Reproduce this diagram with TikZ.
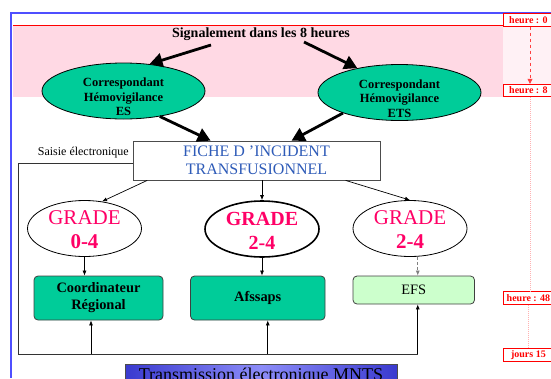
\documentclass[tikz,border=0pt]{standalone}
\usepackage{fontspec}
\setmainfont{Liberation Serif}
\usetikzlibrary{shapes.geometric,arrows.meta,calc}

\definecolor{pinkbg}{HTML}{FFD9E4}
\definecolor{palepink}{HTML}{FFF1F5}
\definecolor{framecol}{HTML}{4F4FFF}
\definecolor{grnfill}{HTML}{00CC99}
\definecolor{ltgreen}{HTML}{CCFFCC}
\definecolor{gradecol}{HTML}{FF0066}
\definecolor{fichecol}{HTML}{2E5BB8}
\definecolor{mntsdark}{HTML}{3A3ACF}
\definecolor{mntslight}{HTML}{8C8CF8}

\begin{document}
\begin{tikzpicture}[x=1pt,y=-1pt,
    corr/.style={ellipse,draw,line width=0.8pt,fill=grnfill,minimum width=163pt,minimum height=56pt,inner sep=0pt},
    corrtxt/.style={font=\fontsize{12.5}{14.5}\selectfont\bfseries,align=center},
    grade/.style={ellipse,draw,line width=0.8pt,fill=white,minimum width=114pt,minimum height=56pt,inner sep=0pt},
    gradetxt/.style={text=gradecol,font=\fontsize{21}{24}\selectfont,align=center,yshift=-1.5pt},
    dest/.style={draw=black!75,rounded corners=4pt,line width=0.8pt,fill=grnfill,font=\fontsize{14.4}{17}\selectfont\bfseries,align=center},
    big/.style={line width=2.8pt,-{Triangle[length=13pt,width=14pt]}},
    small/.style={line width=0.7pt,-{Latex[length=5pt,width=4pt]}},
    hbox/.style={draw=red,fill=white,line width=0.9pt,text=red,font=\fontsize{10}{11}\selectfont\bfseries,anchor=west,inner xsep=1pt,inner ysep=0pt,minimum height=12.5pt,minimum width=50pt}]
  \clip (0,0) rectangle (551,378);

  % background and frame
  \fill[pinkbg] (13,26) rectangle (503,97);
  \fill[palepink] (503,26) rectangle (551,97);
  \draw[line width=1.5pt,framecol] (11,378) -- (11,13) -- (551,13);
  \draw[line width=1.6pt,red] (13,25.5) -- (503,25.5);

  % time line
  \foreach \t/\yy/\n in {heure : 0/20/hr0, heure : 8/90.5/hr8, heure : 48/298/hr48, jours 15/355/j15} {
    \node[hbox] (\n) at (503,\yy) {\t};
  }
  \coordinate (tl) at (530,0);
  \draw[red!75,dashed,line width=0.7pt,-{Triangle[length=5pt,width=5pt]}] (hr0.south -| tl) -- (hr8.north -| tl);
  \draw[red!30,dash pattern=on 1pt off 1pt,line width=0.6pt] (hr8.south -| tl) -- (hr48.north -| tl);
  \draw[red!30,dash pattern=on 1pt off 1pt,line width=0.6pt] ([xshift=-2pt]hr48.south -| tl) -- ([xshift=-2pt]j15.north -| tl);

  % signalement
  \node[font=\fontsize{14}{16}\selectfont\bfseries] (signal) at (261,34) {Signalement dans les 8 heures};
  \node[corr,label={[corrtxt,yshift=-6pt]center:{Correspondant\\Hémovigilance\\ES}}] (corrES) at (123.5,91) {};
  \node[corr,label={[corrtxt,yshift=-6pt]center:{Correspondant\\Hémovigilance\\ETS}}] (corrETS) at (399.5,92.5) {};
  \draw[big] ($(signal.center)+(-50,11)$) -- (corrES.46);
  \draw[big] ($(signal.center)+(43,8)$) -- (corrETS.150);

  % fiche
  \node[draw=black!70,line width=0.8pt,fill=white,minimum width=247pt,minimum height=39pt,text=fichecol,font=\fontsize{16}{18}\selectfont,align=center] (fiche) at (256.5,160.5) {FICHE D 'INCIDENT\\TRANSFUSIONNEL};
  \node[font=\fontsize{12}{14}\selectfont,anchor=east,inner sep=0pt] (saisie) at (129,153) {Saisie électronique};
  \draw[big] (corrES.-35) -- ($(fiche.north west)+(78,0)$);
  \draw[big] (corrETS.200) -- ($(fiche.north west)+(159,0)$);

  % grades
  \node[grade,label={[gradetxt]center:{GRADE\\\textbf{0-4}}}] (g1) at (84.5,228.5) {};
  \node[grade,line width=1.6pt,label={[gradetxt,font=\fontsize{20}{24}\selectfont\bfseries]center:{GRADE\\2-4}}] (g2) at (262,229) {};
  \node[grade,label={[gradetxt]center:{GRADE\\\textbf{2-4}}}] (g3) at (410,228.5) {};
  \draw[small] ($(fiche.south west)+(14.6,0)$) -- (g1.57);
  \draw[small] (g2.north |- fiche.south) -- (g2.north);
  \draw[small] ($(fiche.south west)+(213,0)$) -- (g3.north);

  % destinataires
  \node[dest,minimum width=129pt,minimum height=44pt] (coord) at (98.5,298) {Coordinateur\\Régional};
  \node[dest,minimum width=134.5pt,minimum height=44pt] (afssaps) at (257.75,298) {Afssaps};
  \node[dest,fill=ltgreen,font=\fontsize{14.4}{17}\selectfont,minimum width=121.5pt,minimum height=28pt] (efs) at (413.75,290) {EFS};
  \coordinate (efsin) at ($(efs.north)+(4,0)$);
  \draw[small] (g1.south) -- (g1.south |- coord.north);
  \draw[small] (g2.south) -- (g2.south |- afssaps.north);
  \draw[small,black!50,densely dashed] (g3.south -| efsin) -- (efsin);

  % saisie electronique
  \coordinate (bus) at (18,354);
  \draw[line width=0.7pt,black!80] ($(fiche.west)+(0,2.5)$) -| (bus) -- (bus -| efsin);
  \foreach \n/\dx in {coord/-7.5, afssaps/10, efs/4} {
    \path ([xshift=\dx pt]\n.south) coordinate (top\n);
    \draw[small] (top\n |- bus) -- (top\n);
  }

  \node[draw=black!70,line width=0.8pt,anchor=north,minimum width=272pt,minimum height=20pt,
        left color=mntsdark,right color=mntsdark,middle color=mntslight,
        font=\fontsize{18}{20}\selectfont] (mnts) at (261,364) {Transmission électronique MNTS};
\end{tikzpicture}
\end{document}
